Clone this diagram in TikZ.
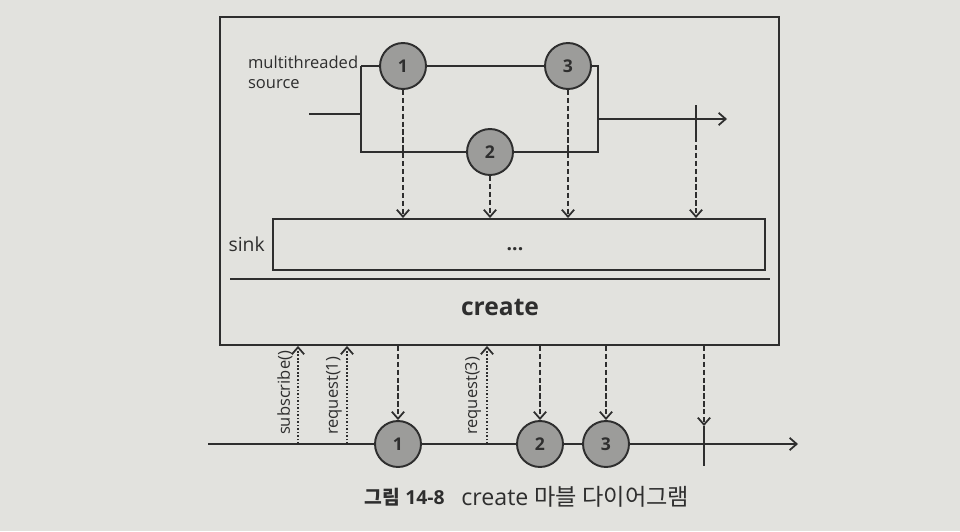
\documentclass[tikz,border=0pt]{standalone}
\usepackage{fontspec}
\setmainfont{Open Sans}
\newfontfamily\krfont{Noto Sans CJK KR}
\usetikzlibrary{arrows.meta}
\definecolor{paper}{HTML}{E2E2DE}
\definecolor{ink}{HTML}{2E2E2E}
\definecolor{ballgray}{HTML}{9C9C9A}
\begin{document}
\begin{tikzpicture}[x=0.02cm,y=-0.02cm,
  line/.style={draw=ink,line width=1.1pt},
  ball/.style={circle,draw=ink,fill=ballgray,line width=1.1pt,minimum size=0.92cm,inner sep=0pt,font=\bfseries\fontsize{10}{12}\selectfont,text=ink},
  dasharrow/.style={draw=ink,line width=1.1pt,dash pattern=on 3pt off 1.5pt,-{Straight Barb[length=4pt,width=7pt,line width=1pt]}},
  dotarrow/.style={draw=ink,line width=1.1pt,dash pattern=on 1pt off 1pt,-{Straight Barb[length=4pt,width=7pt,line width=1pt]}},
  lbl/.style={font=\fontsize{9.4}{11.5}\selectfont,text=ink,inner sep=1pt},
  tickmark/.style={draw=ink,line width=1.6pt}]
\fill[paper] (0,0) rectangle (960,531);
\useasboundingbox (0,0) rectangle (960,531);
% operator box
\node (op) [draw=ink,line width=1.1pt,minimum width=11.18cm,minimum height=6.56cm,inner sep=0pt] at (499.5,181) {};
% source
\node[lbl,align=left,anchor=north west] (srclbl) at (246,54) {multithreaded\\source};
\node[ball] (s1) at (403,66) {1};
\node[ball] (s3) at (568,66) {3};
\node[ball] (s2) at (490,152) {2};
\coordinate (in) at (309,114);
\coordinate (jl) at (361,114);
\coordinate (tl) at (361,66);
\coordinate (bl) at (361,152);
\coordinate (tr) at (598,66);
\coordinate (br) at (598,152);
\coordinate (jr) at (598,119);
\coordinate (outend) at (727,119);
\draw[line] (in) -- (jl);
\draw[line] (tl) -- (s1) -- (s3) -- (tr) -- (br) -- (s2) -- (bl) -- (tl);
\draw[line,-{Straight Barb[length=4pt,width=7pt,line width=1pt]}] (jr) -- (outend);
\coordinate (sk1) at (696,105);
\coordinate (sk2) at (696,137);
\draw[tickmark] (sk1) -- (sk2);
% sink
\node (sink) [draw=ink,line width=1.1pt,minimum width=9.84cm,minimum height=1.02cm,inner sep=0pt] at (519,244.5) {};
\node[lbl,anchor=east,inner sep=4pt] (sinklbl) at (sink.west) {\fontsize{11}{13}\selectfont sink};
\node[font=\bfseries\fontsize{11}{13}\selectfont,text=ink] (ell) at (515,249) {...};
\draw[dasharrow] (s1) -- (s1 |- sink.north);
\draw[dasharrow] (s2) -- (s2 |- sink.north);
\draw[dasharrow] (s3) -- (s3 |- sink.north);
\draw[dasharrow] (sk2) -- (sk2 |- sink.north);
\coordinate (sepl) at (230,279);
\coordinate (sepr) at (770,279);
\draw[line] (sepl) -- (sepr);
\node[font=\bfseries\fontsize{14}{16}\selectfont,text=ink] (create) at (500,307) {create};
% timeline
\coordinate (ts) at (208,444);
\coordinate (te) at (798,444);
\node[ball] (t1) at (398,444) {1};
\node[ball] (t2) at (540,444) {2};
\node[ball] (t3) at (606,444) {3};
\draw[line] (ts) -- (t1) -- (t2) -- (t3);
\draw[line,-{Straight Barb[length=4pt,width=7pt,line width=1pt]}] (t3) -- (te);
\coordinate (tk1) at (704,426);
\coordinate (tk2) at (704,466);
\draw[tickmark] (tk1) -- (tk2);
% requests
\coordinate (u1) at (298,444);
\coordinate (u2) at (347,444);
\coordinate (u3) at (487,444);
\draw[dotarrow] (u1) -- (u1 |- op.south);
\draw[dotarrow] (u2) -- (u2 |- op.south);
\draw[dotarrow] (u3) -- (u3 |- op.south);
\node[lbl,rotate=90,anchor=west] (l1) at (285,437) {subscribe()};
\node[lbl,rotate=90,anchor=west] (l2) at (334,437) {request(1)};
\node[lbl,rotate=90,anchor=west] (l3) at (473,437) {request(3)};
% emissions
\draw[dasharrow] (t1 |- op.south) -- (t1);
\draw[dasharrow] (t2 |- op.south) -- (t2);
\draw[dasharrow] (t3 |- op.south) -- (t3);
\draw[dasharrow] (tk1 |- op.south) -- (tk1);
% caption
\node[anchor=east,text=ink,font=\fontsize{11}{13}\selectfont,inner sep=0pt] (cap1) at (445,497) {{\krfont\bfseries 그림} \textbf{14-8}};
\node[anchor=west,text=ink,font=\fontsize{13.2}{15}\selectfont,inner sep=0pt] (cap2) at (461,497) {create {\krfont 마블 다이어그램}};
\end{tikzpicture}
\end{document}
